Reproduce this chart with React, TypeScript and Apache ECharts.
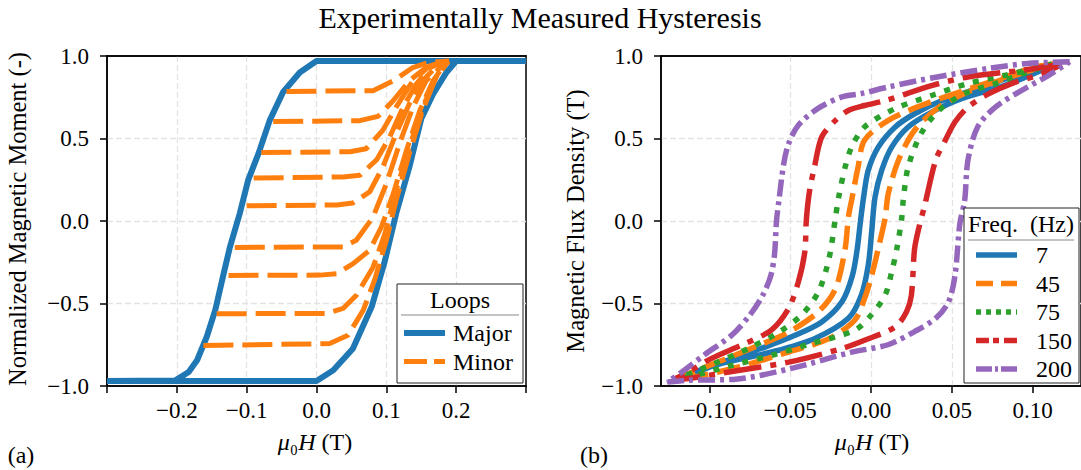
import React, { useEffect, useRef } from 'react';
import * as echarts from 'echarts';

const FONT = '"Liberation Serif", "DejaVu Serif", serif';

// ---------- Panel (a): major / minor loops ----------
const majorAscending: [number, number][] = [
  [-0.3, -0.97], [0.0, -0.97], [0.024, -0.905], [0.052, -0.774], [0.079, -0.52], [0.098, -0.24],
  [0.114, 0.044], [0.133, 0.327], [0.15, 0.62], [0.167, 0.77], [0.186, 0.9], [0.2, 0.97], [0.3, 0.97],
];
const majorDescending: [number, number][] = [
  [0.3, 0.97], [0.0, 0.97], [-0.024, 0.9], [-0.048, 0.78], [-0.067, 0.61], [-0.083, 0.41],
  [-0.098, 0.246], [-0.11, 0.044], [-0.124, -0.158], [-0.133, -0.32], [-0.145, -0.54], [-0.157, -0.7],
  [-0.171, -0.844], [-0.183, -0.915], [-0.202, -0.966], [-0.3, -0.97],
];
const minor1: [number, number][] = [[-0.043, 0.785], [0.081, 0.79], [0.11, 0.85], [0.138, 0.93], [0.16, 0.96], [0.19, 0.97]];
const minor2: [number, number][] = [[-0.062, 0.603], [0.062, 0.608], [0.088, 0.634], [0.11, 0.73], [0.133, 0.85], [0.157, 0.93], [0.186, 0.97]];
const minor3: [number, number][] = [[-0.079, 0.415], [0.048, 0.42], [0.071, 0.438], [0.095, 0.55], [0.114, 0.69], [0.138, 0.85], [0.162, 0.94], [0.186, 0.97]];
const minor4: [number, number][] = [[-0.09, 0.26], [0.038, 0.267], [0.062, 0.277], [0.086, 0.37], [0.105, 0.51], [0.124, 0.69], [0.143, 0.83], [0.162, 0.93], [0.186, 0.97]];
const minor5: [number, number][] = [[-0.1, 0.092], [0.029, 0.097], [0.052, 0.109], [0.076, 0.176], [0.095, 0.327], [0.114, 0.53], [0.133, 0.71], [0.152, 0.85], [0.17, 0.93], [0.19, 0.97]];
const minor6: [number, number][] = [[-0.117, -0.16], [0.038, -0.157], [0.057, -0.117], [0.081, 0.024], [0.1, 0.226], [0.119, 0.47], [0.138, 0.69], [0.157, 0.85], [0.186, 0.965]];
const minor7: [number, number][] = [[-0.126, -0.33], [0.005, -0.328], [0.029, -0.32], [0.052, -0.26], [0.076, -0.178], [0.093, -0.036], [0.11, 0.166], [0.129, 0.43], [0.148, 0.67], [0.167, 0.85], [0.186, 0.965]];
const minor8: [number, number][] = [[-0.143, -0.562], [0.014, -0.56], [0.038, -0.53], [0.057, -0.45], [0.081, -0.28], [0.098, -0.077], [0.114, 0.186], [0.133, 0.45], [0.152, 0.69], [0.171, 0.87], [0.188, 0.965]];
const minor9: [number, number][] = [[-0.162, -0.755], [0.019, -0.743], [0.045, -0.693], [0.067, -0.54], [0.083, -0.36], [0.1, -0.117], [0.114, 0.125], [0.133, 0.41], [0.152, 0.67], [0.171, 0.87], [0.188, 0.965]];
const minorLoops = [minor1, minor2, minor3, minor4, minor5, minor6, minor7, minor8, minor9];

// ---------- Panel (b): frequency loops ----------
const f7Upper: [number, number][] = [
  [0.115, 0.955], [0.087, 0.873], [0.062, 0.79], [0.044, 0.73], [0.027, 0.65], [0.015, 0.57], [0.0045, 0.448],
  [-0.0017, 0.307], [-0.0045, 0.15], [-0.0065, 0.0], [-0.0085, -0.167], [-0.0115, -0.33], [-0.018, -0.49],
  [-0.0305, -0.612], [-0.047, -0.693], [-0.0656, -0.764], [-0.092, -0.855], [-0.113, -0.935], [-0.122, -0.96],
];
const f7Lower: [number, number][] = [
  [-0.122, -0.96], [-0.095, -0.87], [-0.0615, -0.794], [-0.035, -0.713], [-0.014, -0.59], [-0.006, -0.45],
  [-0.0017, -0.268], [0.0004, -0.067], [0.0025, 0.145], [0.0066, 0.307], [0.0128, 0.448], [0.023, 0.57],
  [0.0376, 0.66], [0.056, 0.742], [0.083, 0.822], [0.115, 0.955],
];
const f45Upper: [number, number][] = [
  [0.115, 0.955], [0.1015, 0.933], [0.077, 0.853], [0.052, 0.772], [0.031, 0.7], [0.0107, 0.61], [-0.004, 0.49],
  [-0.008, 0.327], [-0.012, 0.125], [-0.014, 0.024], [-0.016, -0.167], [-0.022, -0.41], [-0.0326, -0.55],
  [-0.051, -0.673], [-0.072, -0.764], [-0.092, -0.844], [-0.113, -0.925], [-0.122, -0.96],
];
const f45Lower: [number, number][] = [
  [-0.122, -0.96], [-0.109, -0.945], [-0.082, -0.885], [-0.051, -0.794], [-0.026, -0.713], [-0.01, -0.6],
  [-0.004, -0.47], [0.0004, -0.33], [0.0045, -0.167], [0.0087, 0.015], [0.0107, 0.166], [0.017, 0.368],
  [0.027, 0.55], [0.042, 0.69], [0.06, 0.782], [0.083, 0.863], [0.106, 0.933], [0.115, 0.955],
];
const f75Upper: [number, number][] = [
  [0.112, 0.95], [0.083, 0.883], [0.06, 0.833], [0.038, 0.762], [0.015, 0.681], [-0.004, 0.57],
  [-0.012, 0.448], [-0.016, 0.327], [-0.02, 0.145], [-0.022, 0.02], [-0.026, -0.228], [-0.0326, -0.43],
  [-0.043, -0.57], [-0.057, -0.673], [-0.076, -0.773], [-0.097, -0.864], [-0.117, -0.945], [-0.122, -0.96],
];
const f75Lower: [number, number][] = [
  [-0.122, -0.96], [-0.109, -0.935], [-0.086, -0.875], [-0.0615, -0.814], [-0.037, -0.743], [-0.01, -0.662],
  [0.0, -0.571], [0.0087, -0.45], [0.0128, -0.309], [0.016, -0.167], [0.019, 0.015], [0.02, 0.13],
  [0.023, 0.327], [0.031, 0.53], [0.042, 0.67], [0.058, 0.772], [0.077, 0.833], [0.097, 0.903], [0.112, 0.95],
];
const f150Upper: [number, number][] = [
  [0.118, 0.95], [0.093, 0.913], [0.06, 0.873], [0.038, 0.822], [0.009, 0.73], [-0.004, 0.7], [-0.014, 0.67],
  [-0.022, 0.61], [-0.0305, 0.51], [-0.035, 0.327], [-0.038, 0.186], [-0.04, 0.01], [-0.041, -0.188],
  [-0.045, -0.37], [-0.051, -0.53], [-0.0615, -0.66], [-0.078, -0.743], [-0.099, -0.834], [-0.113, -0.915], [-0.122, -0.96],
];
const f150Lower: [number, number][] = [
  [-0.122, -0.96], [-0.113, -0.955], [-0.088, -0.915], [-0.051, -0.855], [-0.018, -0.773], [-0.004, -0.723],
  [0.015, -0.642], [0.022, -0.55], [0.025, -0.45], [0.027, -0.167], [0.03, -0.026], [0.033, 0.085],
  [0.04, 0.368], [0.046, 0.49], [0.052, 0.6], [0.06, 0.69], [0.073, 0.772], [0.087, 0.833], [0.106, 0.893], [0.118, 0.95],
];
const f200Upper: [number, number][] = [
  [0.123, 0.965], [0.097, 0.955], [0.073, 0.925], [0.041, 0.873], [0.0105, 0.812], [-0.006, 0.772],
  [-0.018, 0.752], [-0.033, 0.681], [-0.045, 0.58], [-0.051, 0.469], [-0.054, 0.348], [-0.057, 0.125],
  [-0.0585, 0.0], [-0.0597, -0.2], [-0.062, -0.33], [-0.067, -0.45], [-0.075, -0.57], [-0.086, -0.69],
  [-0.103, -0.81], [-0.117, -0.915], [-0.126, -0.976],
];
const f200Lower: [number, number][] = [
  [-0.126, -0.976], [-0.113, -0.965], [-0.085, -0.96], [-0.048, -0.89], [-0.012, -0.795], [0.0105, -0.75],
  [0.027, -0.67], [0.04, -0.59], [0.048, -0.49], [0.052, -0.33], [0.055, -0.016], [0.058, 0.125],
  [0.06, 0.368], [0.066, 0.57], [0.077, 0.69], [0.093, 0.79], [0.11, 0.883], [0.123, 0.965],
];

const freqNames = ['7', '45', '75', '150', '200'];
const freqColors = ['#1f77b4', '#ff7f0e', '#2ca02c', '#d62728', '#9467bd'];
const freqDashes: (string | number[])[] = ['solid', [24, 9], [6, 9], [38, 9, 6, 9], [17, 5, 4, 5]];
const freqLegendDashes: (number[] | null)[] = [null, [17, 8], [5, 5], [13, 4, 6, 5], [16, 3, 3, 3]];
const freqLoops = [
  [f7Upper, f7Lower], [f45Upper, f45Lower], [f75Upper, f75Lower], [f150Upper, f150Lower], [f200Upper, f200Lower],
];

const rightXTicks = [-0.1, -0.05, 0, 0.05, 0.1];

const fmt = (v: number, d: number) => {
  const s = Math.abs(v) < 1e-9 ? (0).toFixed(d) : v.toFixed(d);
  return s.replace('-', '\u2212');
};

const BLUE = '#1f77b4';
const ORANGE = '#ff7f0e';
const GRID_COLOR = '#e3e3e3';

export default function App() {
  const ref = useRef<HTMLDivElement>(null);

  useEffect(() => {
    if (!ref.current) return;
    const chart = echarts.init(ref.current, null, { renderer: 'svg' });

    const axisCommon = {
      axisLine: { show: true, onZero: false, lineStyle: { color: '#000', width: 1.5 } },
      axisTick: { show: true, inside: false, length: 7, lineStyle: { color: '#000', width: 1.5 } },
      splitLine: { show: true, showMinLine: false, showMaxLine: false, lineStyle: { color: GRID_COLOR, width: 1.3, type: [6, 3] } },
    };

    const series: any[] = [];
    [majorAscending, majorDescending].forEach((d) => {
      series.push({
        type: 'line', xAxisIndex: 0, yAxisIndex: 0, showSymbol: false, symbol: 'none', data: d,
        lineStyle: { color: BLUE, width: 6, join: 'round' }, z: 3, silent: true,
      });
    });
    minorLoops.forEach((m) => {
      series.push({
        type: 'line', xAxisIndex: 0, yAxisIndex: 0, showSymbol: false, symbol: 'none', data: m,
        lineStyle: { color: ORANGE, width: 5, type: [30, 9], cap: 'butt' }, z: 3, silent: true,
      });
    });
    freqLoops.forEach(([u, l], i) => {
      series.push({
        type: 'line', xAxisIndex: 1, yAxisIndex: 1, showSymbol: false, symbol: 'none',
        data: [...u, ...l], smooth: 0.3,
        lineStyle: { color: freqColors[i], width: 5.5, type: freqDashes[i], cap: 'butt' }, z: 3, silent: true,
      });
    });

    const t = (text: string, x: number, y: number, size: number, extra: any = {}) => ({
      type: 'text', x, y, z: 100,
      style: { text, fill: '#000', font: `${size}px ${FONT}`, align: 'center', verticalAlign: 'middle', ...extra },
    });
    const ln = (x1: number, y1: number, x2: number, y2: number, stroke: string, lineWidth: number, lineDash?: number[] | null, z = 100) => ({
      type: 'line', z, shape: { x1, y1, x2, y2 },
      style: { stroke, lineWidth, lineDash: lineDash || undefined, lineCap: 'butt' },
    });
    const xName = (x: number) => ({
      type: 'text', x, y: 442, z: 100,
      style: {
        text: '{i|\u03bc}\u2080{i|H} (T)', fill: '#000', font: `24px ${FONT}`, align: 'center', verticalAlign: 'middle',
        rich: { i: { fontStyle: 'italic', fontSize: 24, fontFamily: FONT } },
      },
    });

    const graphics: any[] = [
      t('Experimentally Measured Hysteresis', 540, 17, 30),
      { ...t('Normalized Magnetic Moment (-)', 17, 219, 24.5), rotation: Math.PI / 2 },
      { ...t('Magnetic Flux Density (T)', 575, 221, 24.5), rotation: Math.PI / 2 },
      xName(315),
      xName(872),
      t('(a)', 21, 455, 24),
      t('(b)', 594, 455, 24),
      // frame top edges (solid spines)
      ln(106.25, 56, 526.75, 56, '#000', 1.5, null, 50),
      ln(660.25, 56, 1081, 56, '#000', 1.5, null, 50),
      // Left legend
      { type: 'rect', z: 99, shape: { x: 397, y: 284, width: 126, height: 99 }, style: { fill: '#fff', stroke: '#222', lineWidth: 1 } },
      t('Loops', 460, 300, 24),
      ln(401, 315, 519, 315, '#888', 1),
      ln(404, 333, 445, 333, BLUE, 6),
      t('Major', 453, 333, 24, { align: 'left' }),
      ln(404, 361.5, 445, 361.5, ORANGE, 5, [23, 7]),
      t('Minor', 453, 361.5, 24, { align: 'left' }),
      // Right legend
      { type: 'rect', z: 99, shape: { x: 964, y: 208, width: 115, height: 175 }, style: { fill: '#fff', stroke: '#222', lineWidth: 1 } },
      t('Freq.  (Hz)', 1021, 224, 24),
      ln(968, 240, 1074, 240, '#888', 1),
    ];
    const legendYs = [255, 283.5, 312, 340.5, 369];
    freqNames.forEach((n, i) => {
      graphics.push(ln(976, legendYs[i], 1017, legendYs[i], freqColors[i], 5.5, freqLegendDashes[i]));
      graphics.push(t(n, 1036, legendYs[i], 24, { align: 'left' }));
    });

    const tickLabel = { fontFamily: FONT, fontSize: 23, color: '#000' };

    chart.setOption({
      animation: false,
      backgroundColor: '#fff',
      textStyle: { fontFamily: FONT },
      grid: [
        { left: 107, top: 56, width: 419, height: 330, show: true, borderColor: '#000', borderWidth: 1.5, backgroundColor: 'transparent' },
        { left: 661, top: 56, width: 420, height: 330, show: true, borderColor: '#000', borderWidth: 1.5, backgroundColor: 'transparent' },
      ],
      xAxis: [
        {
          type: 'value', gridIndex: 0, min: -0.3, max: 0.3, interval: 0.1, ...axisCommon,
          axisLabel: { ...tickLabel, margin: 13, formatter: (v: number) => (Math.abs(v) > 0.25 ? '' : fmt(v, 1)) },
        },
        {
          type: 'value', gridIndex: 1, min: -0.13, max: 0.13, ...axisCommon,
          axisTick: { ...axisCommon.axisTick, customValues: rightXTicks },
          axisLabel: { ...tickLabel, margin: 13, customValues: rightXTicks, formatter: (v: number) => fmt(v, 2) },
        },
      ],
      yAxis: [
        {
          type: 'value', gridIndex: 0, min: -1, max: 1, interval: 0.5, ...axisCommon,
          axisLabel: { ...tickLabel, margin: 18, formatter: (v: number) => fmt(v, 1) },
        },
        {
          type: 'value', gridIndex: 1, min: -1, max: 1, interval: 0.5, ...axisCommon,
          axisLabel: { ...tickLabel, margin: 18, formatter: (v: number) => fmt(v, 1) },
        },
      ],
      series,
      graphic: { elements: graphics },
    });

    return () => chart.dispose();
  }, []);

  return <div ref={ref} style={{ width: 1081, height: 470, position: 'absolute', left: 0, top: 0 }} />;
}
